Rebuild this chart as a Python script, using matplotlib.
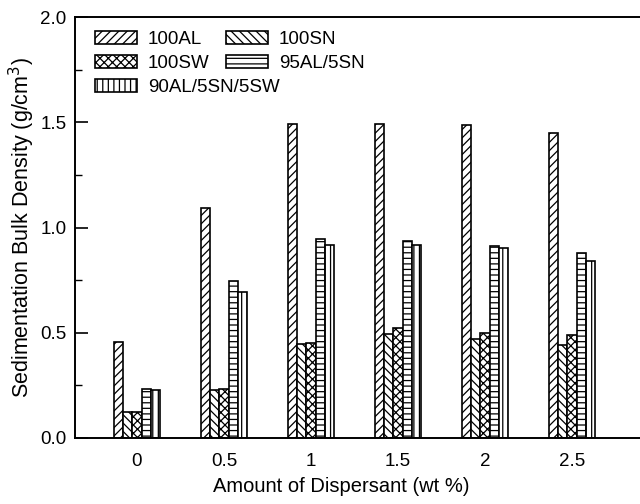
import matplotlib
matplotlib.use("Agg")
import matplotlib.pyplot as plt
import numpy as np
from matplotlib.ticker import MultipleLocator

plt.rcParams['font.family'] = ['Liberation Sans', 'DejaVu Sans']
plt.rcParams['hatch.linewidth'] = 0.9

categories = ['0', '0.5', '1', '1.5', '2', '2.5']
series_names = ['100AL', '100SN', '100SW', '95AL/5SN', '90AL/5SN/5SW']
al100 = [0.456, 1.095, 1.493, 1.494, 1.485, 1.450]
sn100 = [0.125, 0.226, 0.447, 0.494, 0.471, 0.442]
sw100 = [0.125, 0.234, 0.453, 0.523, 0.499, 0.491]
al95 = [0.232, 0.744, 0.946, 0.934, 0.913, 0.881]
al90 = [0.228, 0.693, 0.916, 0.915, 0.904, 0.839]
hatches = ['////', '\\\\\\\\', 'xxxx', '---', '|||']

data = [al100, sn100, sw100, al95, al90]

fig = plt.figure(figsize=(6.4, 5.04), dpi=100)
W, H = 640, 504
left, right, top, bottom = 75, 648, 17, 438
ax = fig.add_axes([left / W, 1 - bottom / H, (right - left) / W, (bottom - top) / H])

x = np.arange(len(categories))
bw = 0.104
bars = []
for i, (vals, name, h) in enumerate(zip(data, series_names, hatches)):
    b = ax.bar(x + (i - 2) * bw, vals, width=bw, facecolor='white', edgecolor='black',
               linewidth=1.2, hatch=h, label=name)
    bars.append(b)

ax.set_xlim((left - 137) / 87.0, (right - 137) / 87.0)
ax.set_ylim(0, 2.0)
ax.set_xticks(x)
ax.set_xticklabels(categories)
ax.yaxis.set_major_locator(MultipleLocator(0.5))
ax.yaxis.set_minor_locator(MultipleLocator(0.25))
ax.yaxis.set_major_formatter(matplotlib.ticker.FormatStrFormatter('%.1f'))
ax.tick_params(axis='y', which='major', direction='in', length=9, width=1.2, labelsize=13.5, pad=6)
ax.tick_params(axis='y', which='minor', direction='in', length=5, width=1.0)
ax.tick_params(axis='x', which='both', length=0, labelsize=13.5, pad=11)
for s in ax.spines.values():
    s.set_linewidth(1.4)

ax.set_xlabel('Amount of Dispersant (wt %)', fontsize=14.5)
ax.xaxis.set_label_coords((341 - left) / (right - left), -(487 - bottom) / (bottom - top), transform=ax.transAxes)
ax.xaxis.label.set_va('center')
ax.set_ylabel('Sedimentation Bulk Density (g/cm$^3$)', fontsize=15.5)
ax.yaxis.set_label_coords(-(left - 22) / (right - left), (437 - 227) / (bottom - top), transform=ax.transAxes)
ax.yaxis.label.set_va('center')

def px(xp, yp):
    return (xp / W, 1 - yp / H)

common = dict(frameon=False, fontsize=13.5, handlelength=2.25, handleheight=0.72,
              handletextpad=0.58, labelspacing=0.36, borderpad=0.0, borderaxespad=0.0,
              loc='upper left', bbox_transform=fig.transFigure)
col1 = [0, 2, 4]
col2 = [1, 3]
leg1 = ax.legend([bars[i] for i in col1], [series_names[i] for i in col1],
                 bbox_to_anchor=px(95, 31), **common)
ax.add_artist(leg1)
leg2 = ax.legend([bars[i] for i in col2], [series_names[i] for i in col2],
                 bbox_to_anchor=px(226, 31), **common)

fig.savefig('out.png', dpi=100)
